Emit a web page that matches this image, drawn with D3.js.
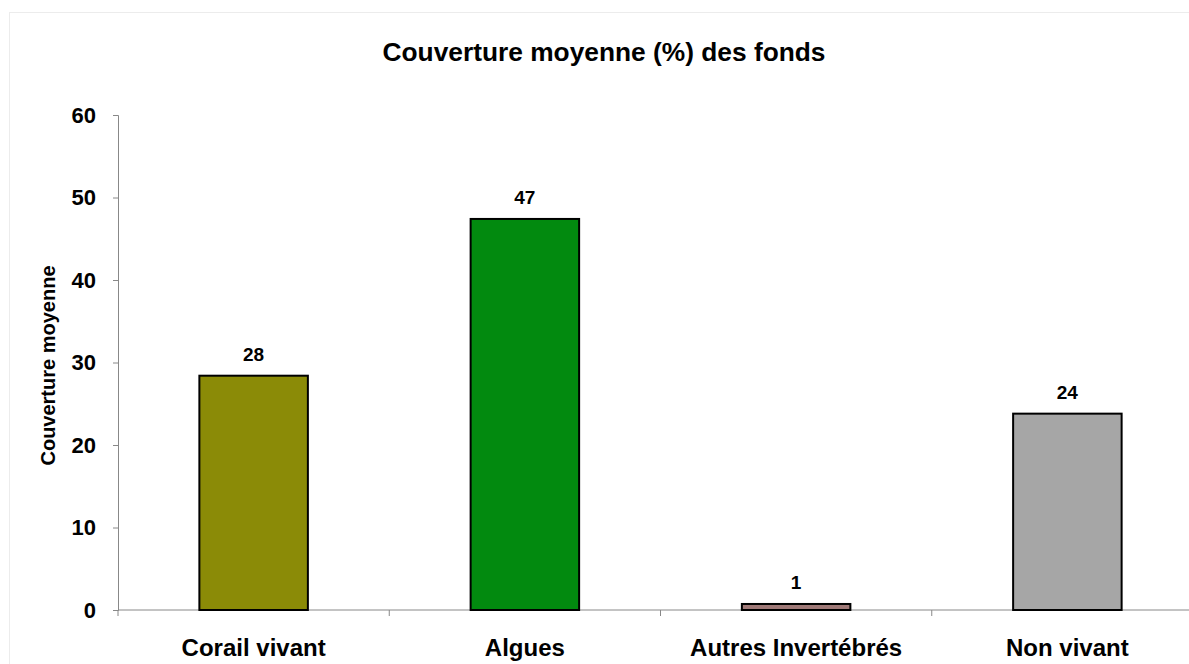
<!DOCTYPE html>
<html>
<head>
<meta charset="utf-8">
<script src="https://cdn.jsdelivr.net/npm/d3@7/dist/d3.min.js"></script>
<style>
  html, body { margin: 0; padding: 0; background: #fff; }
  svg { display: block; font-family: "Liberation Sans", Arial, sans-serif; }
</style>
</head>
<body>
<div id="chart"></div>
<script>
// Data
const categories = ['Corail vivant', 'Algues', 'Autres Invertébrés', 'Non vivant'];
const values = [28.4, 47.4, 0.73, 23.8];
const valueLabels = ['28', '47', '1', '24'];
const barColors = ['#8b8b07', '#028a0f', '#a07a78', '#a6a6a6'];
const yTicks = [0, 10, 20, 30, 40, 50, 60];

const width = 1189, height = 664;
const margin = { top: 115, left: 118, bottom: 54 };
const plotRight = 1203; // axis runs past the visible edge

const svg = d3.select('#chart').append('svg')
  .attr('width', width)
  .attr('height', height);

// faint frame
svg.append('rect')
  .attr('x', 9.5).attr('y', 12.5)
  .attr('width', width + 20).attr('height', height + 20)
  .attr('fill', 'none')
  .attr('stroke', '#ececec')
  .attr('stroke-width', 1);

const x = d3.scaleBand()
  .domain(categories)
  .range([margin.left, plotRight])
  .paddingInner(0.6)
  .paddingOuter(0.3);

const y = d3.scaleLinear()
  .domain([0, 60])
  .range([height - margin.bottom, margin.top]);

// Title
svg.append('text')
  .attr('x', 604)
  .attr('y', 61)
  .attr('text-anchor', 'middle')
  .attr('font-size', 26)
  .attr('font-weight', 'bold')
  .attr('textLength', 443)
  .attr('lengthAdjust', 'spacingAndGlyphs')
  .text('Couverture moyenne (%) des fonds');

// Y axis
const yAxis = svg.append('g')
  .attr('transform', `translate(${margin.left},0)`)
  .call(d3.axisLeft(y).tickValues(yTicks).tickSize(5).tickPadding(17));
yAxis.select('.domain').attr('stroke', '#888');
yAxis.selectAll('.tick line').attr('stroke', '#888');
yAxis.selectAll('.tick text')
  .attr('font-size', 22)
  .attr('font-weight', 'bold')
  .attr('fill', '#000')
  .attr('font-family', '"Liberation Sans", Arial, sans-serif');

// X axis
const xAxis = svg.append('g')
  .attr('transform', `translate(0,${y(0)})`);
xAxis.append('line')
  .attr('x1', margin.left).attr('x2', plotRight)
  .attr('stroke', '#888');
const boundaries = d3.range(categories.length + 1).map(i => margin.left + i * (plotRight - margin.left) / categories.length);
xAxis.selectAll('.xtick')
  .data(boundaries)
  .enter().append('line')
  .attr('x1', d => d).attr('x2', d => d)
  .attr('y1', 0).attr('y2', 6)
  .attr('stroke', '#888');
xAxis.selectAll('.xlabel')
  .data(categories)
  .enter().append('text')
  .attr('x', d => x(d) + x.bandwidth() / 2)
  .attr('y', 46)
  .attr('text-anchor', 'middle')
  .attr('font-size', 24)
  .attr('font-weight', 'bold')
  .text(d => d);

// Y axis title
svg.append('text')
  .attr('transform', `translate(55,${(y(0) + y(60)) / 2 + 3}) rotate(-90)`)
  .attr('text-anchor', 'middle')
  .attr('font-size', 20)
  .attr('font-weight', 'bold')
  .text('Couverture moyenne');

// Bars
svg.selectAll('.bar')
  .data(values)
  .enter().append('rect')
  .attr('class', 'bar')
  .attr('x', (d, i) => x(categories[i]))
  .attr('y', d => y(d))
  .attr('width', x.bandwidth())
  .attr('height', d => y(0) - y(d))
  .attr('fill', (d, i) => barColors[i])
  .attr('stroke', '#000')
  .attr('stroke-width', 2);

// Value labels
svg.selectAll('.vlabel')
  .data(values)
  .enter().append('text')
  .attr('x', (d, i) => x(categories[i]) + x.bandwidth() / 2)
  .attr('y', d => y(d) - 15)
  .attr('text-anchor', 'middle')
  .attr('font-size', 19)
  .attr('font-weight', 'bold')
  .text((d, i) => valueLabels[i]);
</script>
</body>
</html>
